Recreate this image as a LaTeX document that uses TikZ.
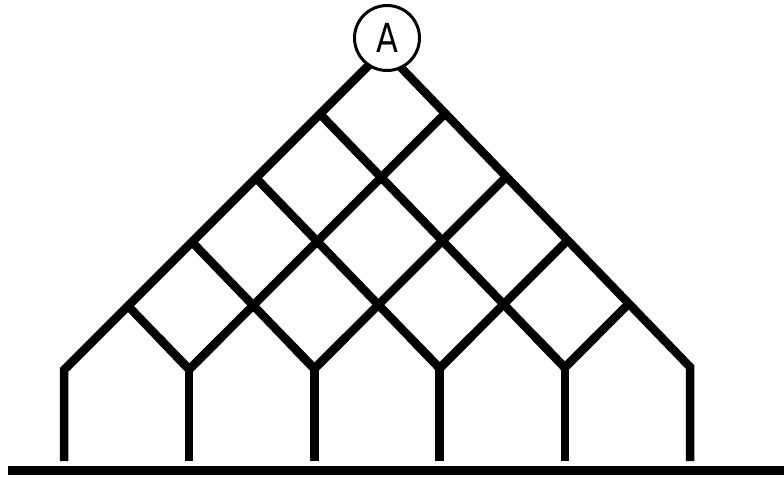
\documentclass[tikz,border=0pt]{standalone}
\usetikzlibrary{calc}
\usepackage{fontspec}
\newfontfamily\lblfont{DejaVu Sans}
\begin{document}
\begin{tikzpicture}[x=1pt,y=-1pt,
  beam/.style={line width=8.5pt, line cap=butt, line join=miter, black},
  groundline/.style={line width=9pt, black},
  toplabel/.style={circle, draw, line width=3pt, fill=white, minimum size=65pt, inner sep=0pt,
    font=\lblfont\fontsize{40}{40}\selectfont}]
\useasboundingbox (0,0) rectangle (784,477);
% lattice points p-i-j : i steps down-left, j steps down-right from the apex
\foreach \i in {0,...,5}{
  \foreach \j in {0,...,5}{
    \pgfmathtruncatemacro{\s}{\i+\j}
    \ifnum\s<6
      \coordinate (p-\i-\j) at ({384-64*\i+61.2*\j},{50+64*\i+63.4*\j});
    \fi
  }
}
\coordinate (floor) at (0,461);
\coordinate (g-l) at (8,470);
\coordinate (g-r) at (784,470);
% feet of the vertical posts
\foreach \i in {0,...,5}{
  \pgfmathtruncatemacro{\j}{5-\i}
  \coordinate (b-\i) at (p-\i-\j |- floor);
}
% down-right lines
\foreach \i in {1,...,4}{
  \pgfmathtruncatemacro{\j}{5-\i}
  \draw[beam] (p-\i-0) -- (p-\i-\j);
}
% down-left lines
\foreach \j in {1,...,4}{
  \pgfmathtruncatemacro{\i}{5-\j}
  \draw[beam] (p-0-\j) -- (p-\i-\j);
}
% outer edges with end posts
\draw[beam] (b-5) -- (p-5-0) -- (p-0-0) -- (p-0-5) -- (b-0);
% inner Y joints with posts
\foreach \i in {1,...,4}{
  \pgfmathtruncatemacro{\j}{5-\i}
  \pgfmathtruncatemacro{\im}{\i-1}
  \pgfmathtruncatemacro{\jm}{\j-1}
  \draw[beam] ($(p-\im-\j)!0.5!(p-\i-\j)$) -- (p-\i-\j) -- ($(p-\i-\jm)!0.5!(p-\i-\j)$);
  \draw[beam] (p-\i-\j) -- (b-\i);
}
% ground
\draw[groundline] (g-l) -- (g-r);
% top label
\node[toplabel] (A) at (387,38) {\scalebox{0.8}[1]{A}};
\end{tikzpicture}
\end{document}
